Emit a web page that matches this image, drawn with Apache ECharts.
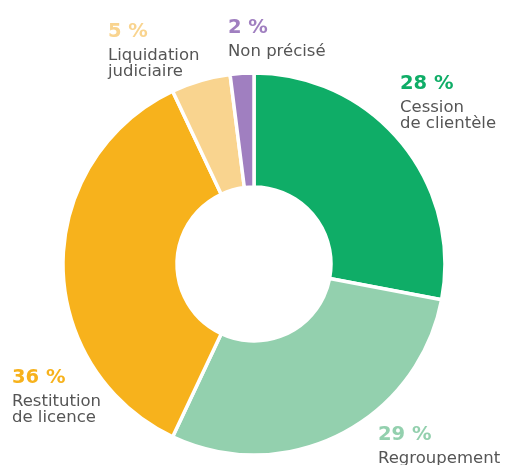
<!DOCTYPE html>
<html>
<head>
<meta charset="utf-8">
<script src="https://cdn.jsdelivr.net/npm/echarts@6/dist/echarts.min.js"></script>
<style>
  html, body { margin: 0; padding: 0; background: #fff; }
  #chart { width: 505px; height: 465px; }
</style>
</head>
<body>
<div id="chart"></div>
<script>
  const categories = ['Cession\nde clientèle', 'Regroupement', 'Restitution\nde licence', 'Liquidation\njudiciaire', 'Non précisé']
  const values = [28, 29, 36, 5, 2]
  const colors = ['#0fad67', '#93d0ae', '#f7b21c', '#f9d48f', '#a07fc0']
  // label anchor (top-left) for each slice
  const labelPos = [[400, 68], [378, 419], [12, 362], [108, 16], [228, 12]]

  const chartDom = document.getElementById('chart')
  const chart = echarts.init(chartDom)

  const pctStyle = (c) => ({ color: c, fontSize: 19.5, fontWeight: 'bold', fontFamily: 'DejaVu Sans', lineHeight: 32 })

  const option = {
    animation: false,
    series: [{
      type: 'pie',
      center: [254, 264],
      radius: [77, 191],
      startAngle: 90,
      clockwise: true,
      avoidLabelOverlap: false,
      itemStyle: { borderColor: '#fff', borderWidth: 3.5 },
      label: {
        show: true,
        position: 'outside',
        formatter: (p) => {
          const lines = p.name.split('\n').map((l) => `{t|${l}}`).join('\n')
          return `{p${p.dataIndex}|${p.value} %}\n${lines}`
        },
        rich: {
          p0: pctStyle(colors[0]),
          p1: pctStyle(colors[1]),
          p2: pctStyle(colors[2]),
          p3: pctStyle(colors[3]),
          p4: pctStyle(colors[4]),
          t: { color: '#555', fontSize: 16.5, fontFamily: 'DejaVu Sans', lineHeight: 16 },
        },
      },
      labelLine: { show: false },
      labelLayout: (params) => ({
        x: labelPos[params.dataIndex][0],
        y: labelPos[params.dataIndex][1],
        align: 'left',
        verticalAlign: 'top',
      }),
      data: categories.map((name, i) => ({
        name,
        value: values[i],
        itemStyle: { color: colors[i] },
      })),
    }],
  }

  chart.setOption(option)
</script>
</body>
</html>
